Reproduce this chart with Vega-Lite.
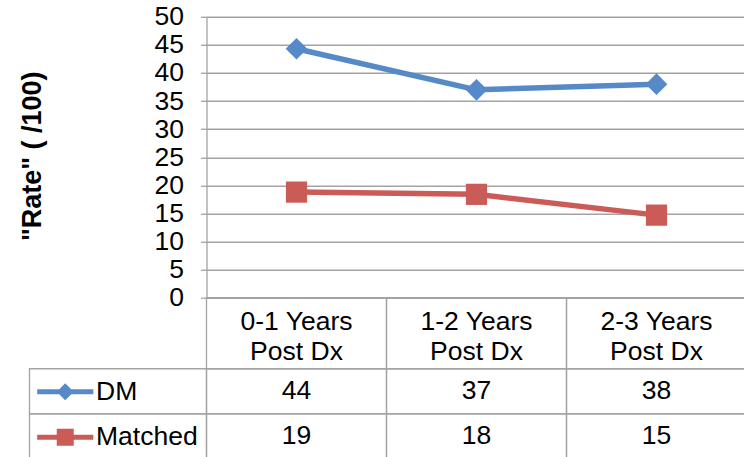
{
  "$schema": "https://vega.github.io/schema/vega-lite/v6.json",
  "background": "white",
  "padding": {"left": 18.5, "top": 3.75, "right": 0, "bottom": 0},
  "config": {
    "font": "Liberation Sans",
    "view": {"stroke": null},
    "concat": {"spacing": 0}
  },
  "datasets": {
    "rates": [
      {"period": "0-1 Years\nPost Dx", "series": "DM", "rate": 44.3},
      {"period": "1-2 Years\nPost Dx", "series": "DM", "rate": 37.0},
      {"period": "2-3 Years\nPost Dx", "series": "DM", "rate": 38.0},
      {"period": "0-1 Years\nPost Dx", "series": "Matched", "rate": 18.8},
      {"period": "1-2 Years\nPost Dx", "series": "Matched", "rate": 18.4},
      {"period": "2-3 Years\nPost Dx", "series": "Matched", "rate": 14.7}
    ],
    "periods": [
      {"period": "0-1 Years\nPost Dx"},
      {"period": "1-2 Years\nPost Dx"},
      {"period": "2-3 Years\nPost Dx"}
    ],
    "series": [{"series": "DM"}, {"series": "Matched"}]
  },
  "columns": 2,
  "spacing": 0,
  "bounds": "flush",
  "concat": [
    {
      "width": 177,
      "height": 281,
      "data": {"values": []},
      "mark": "point"
    },
    {
      "width": 540,
      "height": 281,
      "data": {"name": "rates"},
      "encoding": {
        "x": {
          "field": "period",
          "type": "nominal",
          "sort": null,
          "scale": {"paddingInner": 0, "paddingOuter": 0},
          "axis": null
        },
        "y": {
          "field": "rate",
          "type": "quantitative",
          "scale": {"domain": [0, 50], "nice": false},
          "axis": {
            "values": [0, 5, 10, 15, 20, 25, 30, 35, 40, 45, 50],
            "grid": true,
            "gridColor": "#a3a3a3",
            "gridWidth": 1.3,
            "domain": true,
            "domainColor": "#a3a3a3",
            "domainWidth": 1.3,
            "ticks": true,
            "tickSize": 6,
            "tickColor": "#a3a3a3",
            "tickWidth": 1.3,
            "labelFontSize": 26.5,
            "labelColor": "black",
            "labelPadding": 17,
            "labelFlush": false,
            "labelOverlap": false,
            "title": "\"Rate\" ( /100)",
            "titleFontSize": 27,
            "titleFontWeight": "bold",
            "titleColor": "black",
            "titleX": -174,
            "titleY": 139,
            "titleAngle": -90,
            "titleAlign": "center",
            "titleBaseline": "middle"
          }
        },
        "color": {
          "field": "series",
          "type": "nominal",
          "scale": {"domain": ["DM", "Matched"], "range": ["#5589C7", "#CB5B56"]},
          "legend": {
            "orient": "none",
            "legendX": 22.5,
            "legendY": 361.75,
            "direction": "vertical",
            "title": null,
            "padding": 0,
            "labelFontSize": 26.5,
            "labelColor": "black",
            "labelOffset": 17.5,
            "rowPadding": 18.5,
            "symbolSize": 289,
            "symbolStrokeWidth": 0,
            "symbolOpacity": 1,
            "encode": {
              "symbols": {
                "update": {
                  "shape": {"signal": "datum.value === 'DM' ? 'M-3.3,-0.3H3.3V0.3H-3.3Z M0,-1L1,0L0,1L-1,0Z' : 'M-3.3,-0.3H3.3V0.3H-3.3Z M-1,-1H1V1H-1Z'"},
                  "size": {"value": 289},
                  "fill": {"scale": "color", "field": "value"},
                  "strokeWidth": {"value": 0}
                }
              }
            }
          }
        }
      },
      "layer": [
        {"mark": {"type": "line", "strokeWidth": 5.5, "strokeJoin": "round", "strokeCap": "round"}},
        {
          "transform": [{"filter": "datum.series === 'DM'"}],
          "mark": {"type": "point", "shape": "diamond", "filled": true, "opacity": 1, "size": 470}
        },
        {
          "transform": [{"filter": "datum.series === 'Matched'"}],
          "mark": {"type": "point", "shape": "square", "filled": true, "opacity": 1, "size": 450}
        }
      ]
    },
    {
      "width": 177,
      "height": 71,
      "data": {"values": []},
      "mark": "point"
    },
    {
      "width": 540,
      "height": 71,
      "data": {"name": "periods"},
      "encoding": {
        "x": {
          "field": "period",
          "type": "nominal",
          "sort": null,
          "scale": {"paddingInner": 0, "paddingOuter": 0},
          "axis": null
        }
      },
      "layer": [
        {"mark": {"type": "rect", "filled": false, "stroke": "#a3a3a3", "strokeWidth": 1.3}},
        {
          "mark": {"type": "text", "fontSize": 26.5, "lineBreak": "\n", "lineHeight": 30, "color": "black", "baseline": "middle", "dy": -11},
          "encoding": {"text": {"field": "period"}}
        }
      ]
    },
    {
      "width": 177,
      "height": 90,
      "data": {"name": "series"},
      "mark": {"type": "rect", "filled": false, "stroke": "#a3a3a3", "strokeWidth": 1.3},
      "encoding": {
        "y": {
          "field": "series",
          "type": "nominal",
          "sort": ["DM", "Matched"],
          "scale": {"paddingInner": 0, "paddingOuter": 0},
          "axis": null
        }
      }
    },
    {
      "width": 540,
      "height": 90,
      "data": {"name": "rates"},
      "encoding": {
        "x": {
          "field": "period",
          "type": "nominal",
          "sort": null,
          "scale": {"paddingInner": 0, "paddingOuter": 0},
          "axis": null
        },
        "y": {
          "field": "series",
          "type": "nominal",
          "sort": ["DM", "Matched"],
          "scale": {"paddingInner": 0, "paddingOuter": 0},
          "axis": null
        }
      },
      "layer": [
        {"mark": {"type": "rect", "filled": false, "stroke": "#a3a3a3", "strokeWidth": 1.3}},
        {
          "mark": {"type": "text", "fontSize": 26.5, "color": "black", "baseline": "middle"},
          "encoding": {"text": {"field": "rate", "type": "quantitative", "format": ".0f"}}
        }
      ]
    }
  ]
}
